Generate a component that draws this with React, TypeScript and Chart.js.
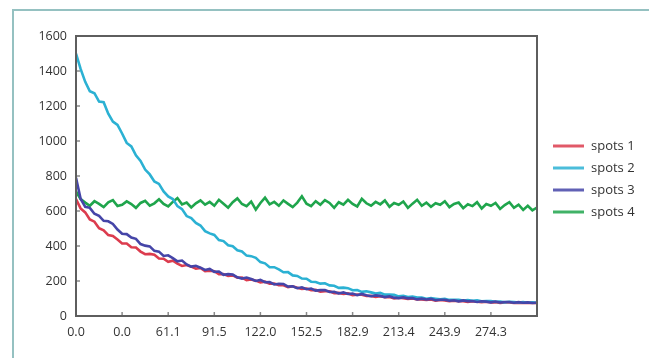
import React, { useEffect, useRef } from 'react';
import { Chart, registerables } from 'chart.js';

Chart.register(...registerables);

const seriesNames = ['spots 1', 'spots 2', 'spots 3', 'spots 4'];
const seriesColors = ['#dc3c4e', '#2bb1d3', '#4545a8', '#1fa54c'];
const xTickLabels = ['0.0', '0.0', '61.1', '91.5', '122.0', '152.5', '182.9', '213.4', '243.9', '274.3', ''];
const xMax = 304.8;
const timeStep = 3.048;
const yMax = 1600;
const yStep = 200;

const spots1 = [
  668, 615, 592, 552, 539, 502, 490, 462, 457, 437,
  415, 414, 393, 391, 368, 353, 355, 350, 329, 327,
  310, 316, 299, 286, 291, 282, 270, 275, 256, 259,
  256, 239, 240, 229, 232, 219, 220, 205, 209, 202,
  192, 196, 184, 186, 176, 176, 165, 170, 162, 154,
  157, 148, 149, 139, 142, 141, 131, 132, 126, 129,
  119, 122, 121, 114, 115, 109, 113, 107, 108, 101,
  104, 102, 97, 100, 94, 95, 92, 94, 88, 91,
  89, 85, 88, 84, 85, 81, 84, 81, 79, 81,
  77, 79, 75, 78, 77, 75, 76, 74, 75, 74,
  74,
];

const spots2 = [
  1500, 1412, 1338, 1284, 1273, 1225, 1222, 1156, 1111, 1092,
  1043, 989, 969, 918, 886, 837, 809, 769, 755, 712,
  683, 668, 628, 611, 571, 559, 532, 517, 485, 472,
  463, 434, 428, 404, 399, 376, 369, 345, 342, 332,
  308, 301, 279, 279, 266, 250, 251, 232, 229, 214,
  213, 196, 194, 185, 187, 175, 173, 161, 162, 159,
  147, 148, 138, 141, 135, 128, 132, 122, 122, 121,
  112, 115, 109, 111, 105, 106, 99, 102, 99, 95,
  98, 92, 93, 93, 88, 91, 87, 89, 84, 85,
  85, 81, 82, 78, 81, 80, 77, 80, 76, 78,
  76,
];

const spots3 = [
  790, 670, 624, 618, 584, 572, 544, 541, 526, 494,
  470, 468, 448, 441, 411, 402, 398, 372, 368, 343,
  347, 331, 312, 317, 295, 282, 287, 276, 263, 269,
  252, 254, 235, 239, 237, 221, 214, 220, 211, 200,
  206, 193, 194, 180, 184, 183, 168, 170, 159, 164,
  153, 157, 145, 148, 148, 137, 138, 129, 135, 126,
  128, 119, 126, 118, 113, 118, 115, 108, 113, 105,
  102, 107, 101, 103, 95, 99, 94, 98, 90, 93,
  93, 87, 90, 84, 89, 84, 86, 80, 84, 82,
  78, 83, 77, 80, 80, 76, 79, 76, 78, 74,
  76,
];

const spots4 = [
  712, 668, 648, 630, 656, 641, 622, 650, 662, 628,
  636, 655, 640, 618, 646, 658, 631, 644, 667, 640,
  626, 652, 674, 638, 648, 620, 644, 661, 636, 652,
  630, 664, 642, 619, 650, 672, 640, 628, 654, 608,
  646, 676, 638, 652, 630, 660, 641, 622, 648, 684,
  642, 628, 656, 636, 662, 646, 618, 650, 636, 664,
  640, 626, 670, 644, 630, 652, 638, 660, 624, 646,
  636, 654, 618, 642, 664, 630, 648, 624, 644, 636,
  656, 622, 640, 648, 616, 638, 628, 650, 614, 640,
  630, 646, 612, 634, 650, 618, 636, 606, 630, 604,
  620,
];

const seriesValues = [spots1, spots2, spots3, spots4];
const drawOrder = [2, 1, 0, 3];

const FONT = "'Open Sans', 'DejaVu Sans', sans-serif";

const boxPlugin = {
  id: 'boxAndLegend',
  beforeDatasetsDraw(chart: any) {
    const { ctx, chartArea, scales } = chart;
    ctx.save();
    ctx.strokeStyle = '#8a8a8a';
    ctx.lineWidth = 1.5;
    scales.x.ticks.forEach((t: any) => {
      const px = scales.x.getPixelForValue(t.value);
      ctx.beginPath();
      ctx.moveTo(px, chartArea.bottom);
      ctx.lineTo(px, chartArea.bottom - 4);
      ctx.stroke();
    });
    scales.y.ticks.forEach((t: any) => {
      const py = scales.y.getPixelForValue(t.value);
      ctx.beginPath();
      ctx.moveTo(chartArea.left, py);
      ctx.lineTo(chartArea.left + 4, py);
      ctx.stroke();
    });
    ctx.restore();
  },
  afterDatasetsDraw(chart: any) {
    const { ctx, chartArea } = chart;
    ctx.save();
    ctx.strokeStyle = '#5e5e5e';
    ctx.lineWidth = 2;
    ctx.strokeRect(chartArea.left, chartArea.top, chartArea.right - chartArea.left, chartArea.bottom - chartArea.top);
    ctx.restore();
  },
  afterDraw(chart: any) {
    const { ctx, chartArea } = chart;
    ctx.save();
    ctx.font = `13px ${FONT}`;
    ctx.textBaseline = 'middle';
    ctx.textAlign = 'left';
    const x0 = chartArea.right + 16;
    const startY = 146;
    chart.data.datasets.forEach((ds: any, i: number) => {
      const y = startY + i * 22;
      ctx.strokeStyle = ds.borderColor;
      ctx.globalAlpha = 0.85;
      ctx.lineWidth = 3;
      ctx.beginPath();
      ctx.moveTo(x0, y);
      ctx.lineTo(x0 + 31, y);
      ctx.stroke();
      ctx.globalAlpha = 1;
      ctx.fillStyle = '#333333';
      ctx.fillText(ds.label, x0 + 38, y);
    });
    ctx.restore();
  },
};

export default function App() {
  const ref = useRef<HTMLCanvasElement>(null);
  useEffect(() => {
    const canvas = ref.current;
    if (!canvas) return;
    const datasets = seriesNames.map((name, s) => ({
      label: name,
      data: seriesValues[s].map((v, i) => ({ x: i * timeStep, y: v })),
      borderColor: seriesColors[s],
      backgroundColor: seriesColors[s],
      borderWidth: 2.6,
      pointRadius: 0,
      tension: 0,
      fill: false,
      order: drawOrder[s],
    }));
    const chart = new Chart(canvas, {
      type: 'line',
      data: { datasets },
      options: {
        animation: false,
        responsive: false,
        devicePixelRatio: 1,
        layout: { padding: { top: 36, right: 112, left: 0, bottom: 0 } },
        plugins: { legend: { display: false }, tooltip: { enabled: false } },
        scales: {
          x: {
            type: 'linear',
            min: 0,
            max: xMax,
            grid: { display: false, drawTicks: false },
            border: { display: false },
            afterFit: (scale: any) => { scale.height = 42; },
            ticks: {
              count: xTickLabels.length,
              autoSkip: false,
              maxRotation: 0,
              padding: 9,
              color: '#333333',
              font: { family: FONT, size: 12.5 },
              callback: (_v: any, index: number) => xTickLabels[index] ?? '',
            },
          },
          y: {
            type: 'linear',
            min: 0,
            max: yMax,
            grid: { display: false, drawTicks: false },
            border: { display: false },
            afterFit: (scale: any) => { scale.width = 76; },
            ticks: {
              stepSize: yStep,
              padding: 9,
              color: '#333333',
              font: { family: FONT, size: 12.5 },
              callback: (v: any) => String(v),
            },
          },
        },
      },
      plugins: [boxPlugin],
    });
    return () => chart.destroy();
  }, []);
  return (
    <div style={{ position: 'fixed', left: 0, top: 0, width: 649, height: 358, background: '#ffffff' }}>
      <div
        style={{
          position: 'absolute',
          left: 12,
          top: 9,
          right: 0,
          bottom: 0,
          borderLeft: '2px solid #95c1c1',
          borderTop: '2px solid #95c1c1',
        }}
      />
      <canvas ref={ref} width={649} height={358} style={{ position: 'absolute', left: 0, top: 0, width: 649, height: 358 }} />
    </div>
  );
}
